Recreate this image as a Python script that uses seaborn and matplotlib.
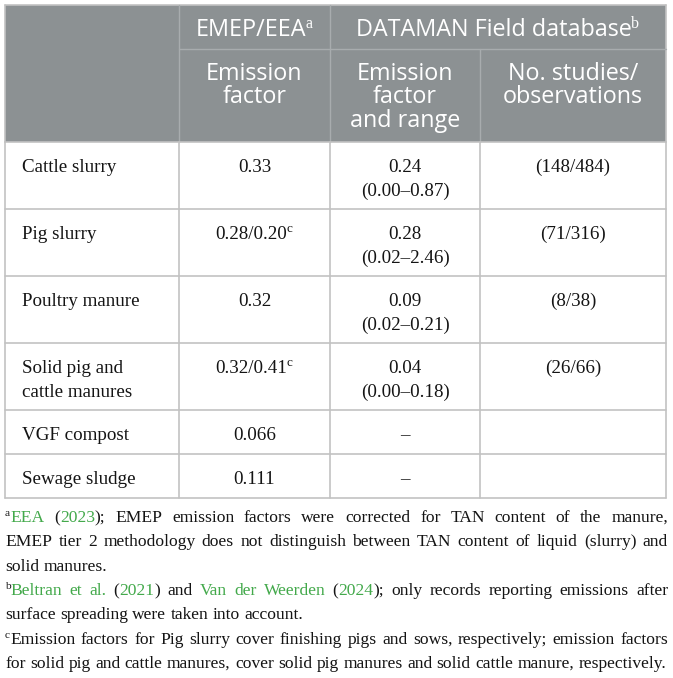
import matplotlib
matplotlib.use("Agg")
import matplotlib.pyplot as plt
from matplotlib.patches import Rectangle
import seaborn as sns

# table content
row_labels = ["Cattle slurry", "Pig slurry", "Poultry manure",
              "Solid pig and\ncattle manures", "VGF compost", "Sewage sludge"]
emep_ef = ["0.33", "0.28/0.20", "0.32", "0.32/0.41", "0.066", "0.111"]
emep_note = ["", "c", "", "c", "", ""]
dataman_ef = ["0.24", "0.28", "0.09", "0.04", "–", "–"]
dataman_range = ["(0.00–0.87)", "(0.02–2.46)", "(0.02–0.21)", "(0.00–0.18)", "", ""]
dataman_n = ["(148/484)", "(71/316)", "(8/38)", "(26/66)", "", ""]

group_headers = ["EMEP/EEA", "DATAMAN Field database"]
group_notes = ["a", "b"]
col_headers = ["Emission\nfactor", "Emission\nfactor\nand range", "No. studies/\nobservations"]

GREEN = "#43a94b"
BLACK = "#141414"
# footnotes, one entry per printed line: (note letter, segments, justified)
foot_lines = [
    ("a", [("EEA", GREEN), (" (", BLACK), ("2023", GREEN),
           ("); EMEP emission factors were corrected for TAN content of the manure,", BLACK)], True),
    ("", [("EMEP tier 2 methodology does not distinguish between TAN content of liquid (slurry) and", BLACK)], True),
    ("", [("solid manures.", BLACK)], False),
    ("b", [("Beltran et al.", GREEN), (" (", BLACK), ("2021", GREEN), (") and ", BLACK),
           ("Van der Weerden", GREEN), (" (", BLACK), ("2024", GREEN),
           ("); only records reporting emissions after", BLACK)], True),
    ("", [("surface spreading were taken into account.", BLACK)], False),
    ("c", [("Emission factors for Pig slurry cover finishing pigs and sows, respectively; emission factors", BLACK)], True),
    ("", [("for solid pig and cattle manures, cover solid pig manures and solid cattle manure, respectively.", BLACK)], False),
]

sns.set_theme(style="white")
SERIF = ["Liberation Serif", "DejaVu Serif"]
SANS = ["Open Sans", "DejaVu Sans"]
plt.rcParams["font.family"] = SERIF

W, H = 673, 678
fig = plt.figure(figsize=(W / 100, H / 100), dpi=100)
ax = fig.add_axes([0, 0, 1, 1])
ax.set_xlim(0, W)
ax.set_ylim(H, 0)
ax.axis("off")
renderer = fig.canvas.get_renderer()


def measure(s, size, family):
    t = ax.text(0, 0, s, fontsize=size, family=family)
    w = t.get_window_extent(renderer).width
    t.remove()
    return w


def text_with_sup(cx, y, s, sup, size, family, color, sup_size, sup_rise):
    w = measure(s, size, family)
    ws = measure(sup, sup_size, SERIF) if sup else 0
    x0 = cx - (w + ws) / 2
    ax.text(x0, y, s, fontsize=size, family=family, color=color, va="baseline", ha="left")
    if sup:
        ax.text(x0 + w - 1.0, y - sup_rise, sup, fontsize=sup_size, family=SERIF,
                color=color, va="baseline", ha="left")


# geometry
col_x = [5, 179, 330, 480, 666]
head_y = [5, 49, 142]
row_h = [67, 67, 67, 67, 44, 44]
row_y = [head_y[-1]]
for h in row_h:
    row_y.append(row_y[-1] + h)

HEAD_BG = "#8c9193"
HEAD_LINE = "#a8acae"
GRID = "#c2c2c2"
HSIZE = 16.8
BSIZE = 13.7
LINE = 24

# header block
ax.add_patch(Rectangle((col_x[0], head_y[0]), col_x[-1] - col_x[0], head_y[-1] - head_y[0],
                       facecolor=HEAD_BG, edgecolor="none"))
ax.plot([col_x[0], col_x[-1]], [head_y[0], head_y[0]], color=GRID, lw=1.2)
ax.plot([col_x[0], col_x[0]], [head_y[0], head_y[-1]], color=GRID, lw=1.2)
ax.plot([col_x[-1], col_x[-1]], [head_y[0], head_y[-1]], color=GRID, lw=1.2)
ax.plot([col_x[1], col_x[-1]], [head_y[1], head_y[1]], color=HEAD_LINE, lw=1.0)
for i, x in enumerate(col_x[1:-1]):
    y_top = head_y[1] if i == 2 else head_y[0]
    ax.plot([x, x], [y_top, head_y[-1]], color=HEAD_LINE, lw=1.0)

# group header texts
group_centres = [(col_x[1] + col_x[2]) / 2, (col_x[2] + col_x[4]) / 2]
for cx, s, n in zip(group_centres, group_headers, group_notes):
    text_with_sup(cx, 36.5, s, n, HSIZE, SANS, "white", 11.5, 8)

# column header texts
for j, s in enumerate(col_headers):
    cx = (col_x[j + 1] + col_x[j + 2]) / 2
    for k, part in enumerate(s.split("\n")):
        ax.text(cx, 79.5 + k * 23.8, part, fontsize=HSIZE, family=SANS, color="white",
                ha="center", va="baseline")

# body grid
for y in row_y:
    ax.plot([col_x[0], col_x[-1]], [y, y], color=GRID, lw=1.2)
for x in col_x:
    ax.plot([x, x], [row_y[0], row_y[-1]], color=GRID, lw=1.2)

# body texts
centres = [(col_x[j] + col_x[j + 1]) / 2 for j in range(1, 4)]
for i in range(len(row_labels)):
    base = row_y[i] + 30
    for k, part in enumerate(row_labels[i].split("\n")):
        ax.text(22, base + k * LINE, part, fontsize=BSIZE, color=BLACK,
                ha="left", va="baseline")
    text_with_sup(centres[0], base, emep_ef[i], emep_note[i], BSIZE, SERIF, BLACK, 9.5, 7)
    ax.text(centres[1], base, dataman_ef[i], fontsize=BSIZE, color=BLACK, ha="center", va="baseline")
    if dataman_range[i]:
        ax.text(centres[1], base + LINE, dataman_range[i], fontsize=BSIZE, color=BLACK,
                ha="center", va="baseline")
    if dataman_n[i]:
        ax.text(centres[2], base, dataman_n[i], fontsize=BSIZE, color=BLACK, ha="center", va="baseline")


# footnotes
def split_words(segs):
    words = [[]]
    for s, c in segs:
        parts = s.split(" ")
        for k, p in enumerate(parts):
            if k > 0:
                words.append([])
            if p:
                words[-1].append((p, c))
    return [w for w in words if w]


FX0, FX1 = 5, 668
ref_size = 12.5
last_words = split_words(foot_lines[-1][1])
space_ref = measure("a a", ref_size, SERIF) - measure("aa", ref_size, SERIF)
nat = sum(measure(p, ref_size, SERIF) for w in last_words for p, _ in w) + space_ref * (len(last_words) - 1)
FSIZE = ref_size * (FX1 - FX0) / nat
SUPSIZE = FSIZE * 0.65
space_w = measure("a a", FSIZE, SERIF) - measure("aa", FSIZE, SERIF)

for li, (note, segs, justify) in enumerate(foot_lines):
    y = 522 + li * 24.3
    x = FX0
    if note:
        ax.text(x, y - 6, note, fontsize=SUPSIZE, color=BLACK, ha="left", va="baseline")
        x += measure(note, SUPSIZE, SERIF) + 0.3
    words = split_words(segs)
    widths = [sum(measure(p, FSIZE, SERIF) for p, _ in w) for w in words]
    gap = space_w
    if justify and len(words) > 1:
        gap = (FX1 - x - sum(widths)) / (len(words) - 1)
    for w, ww in zip(words, widths):
        xx = x
        for p, c in w:
            ax.text(xx, y, p, fontsize=FSIZE, color=c, ha="left", va="baseline")
            xx += measure(p, FSIZE, SERIF)
        x += ww + gap

fig.savefig("out.png", dpi=100)
